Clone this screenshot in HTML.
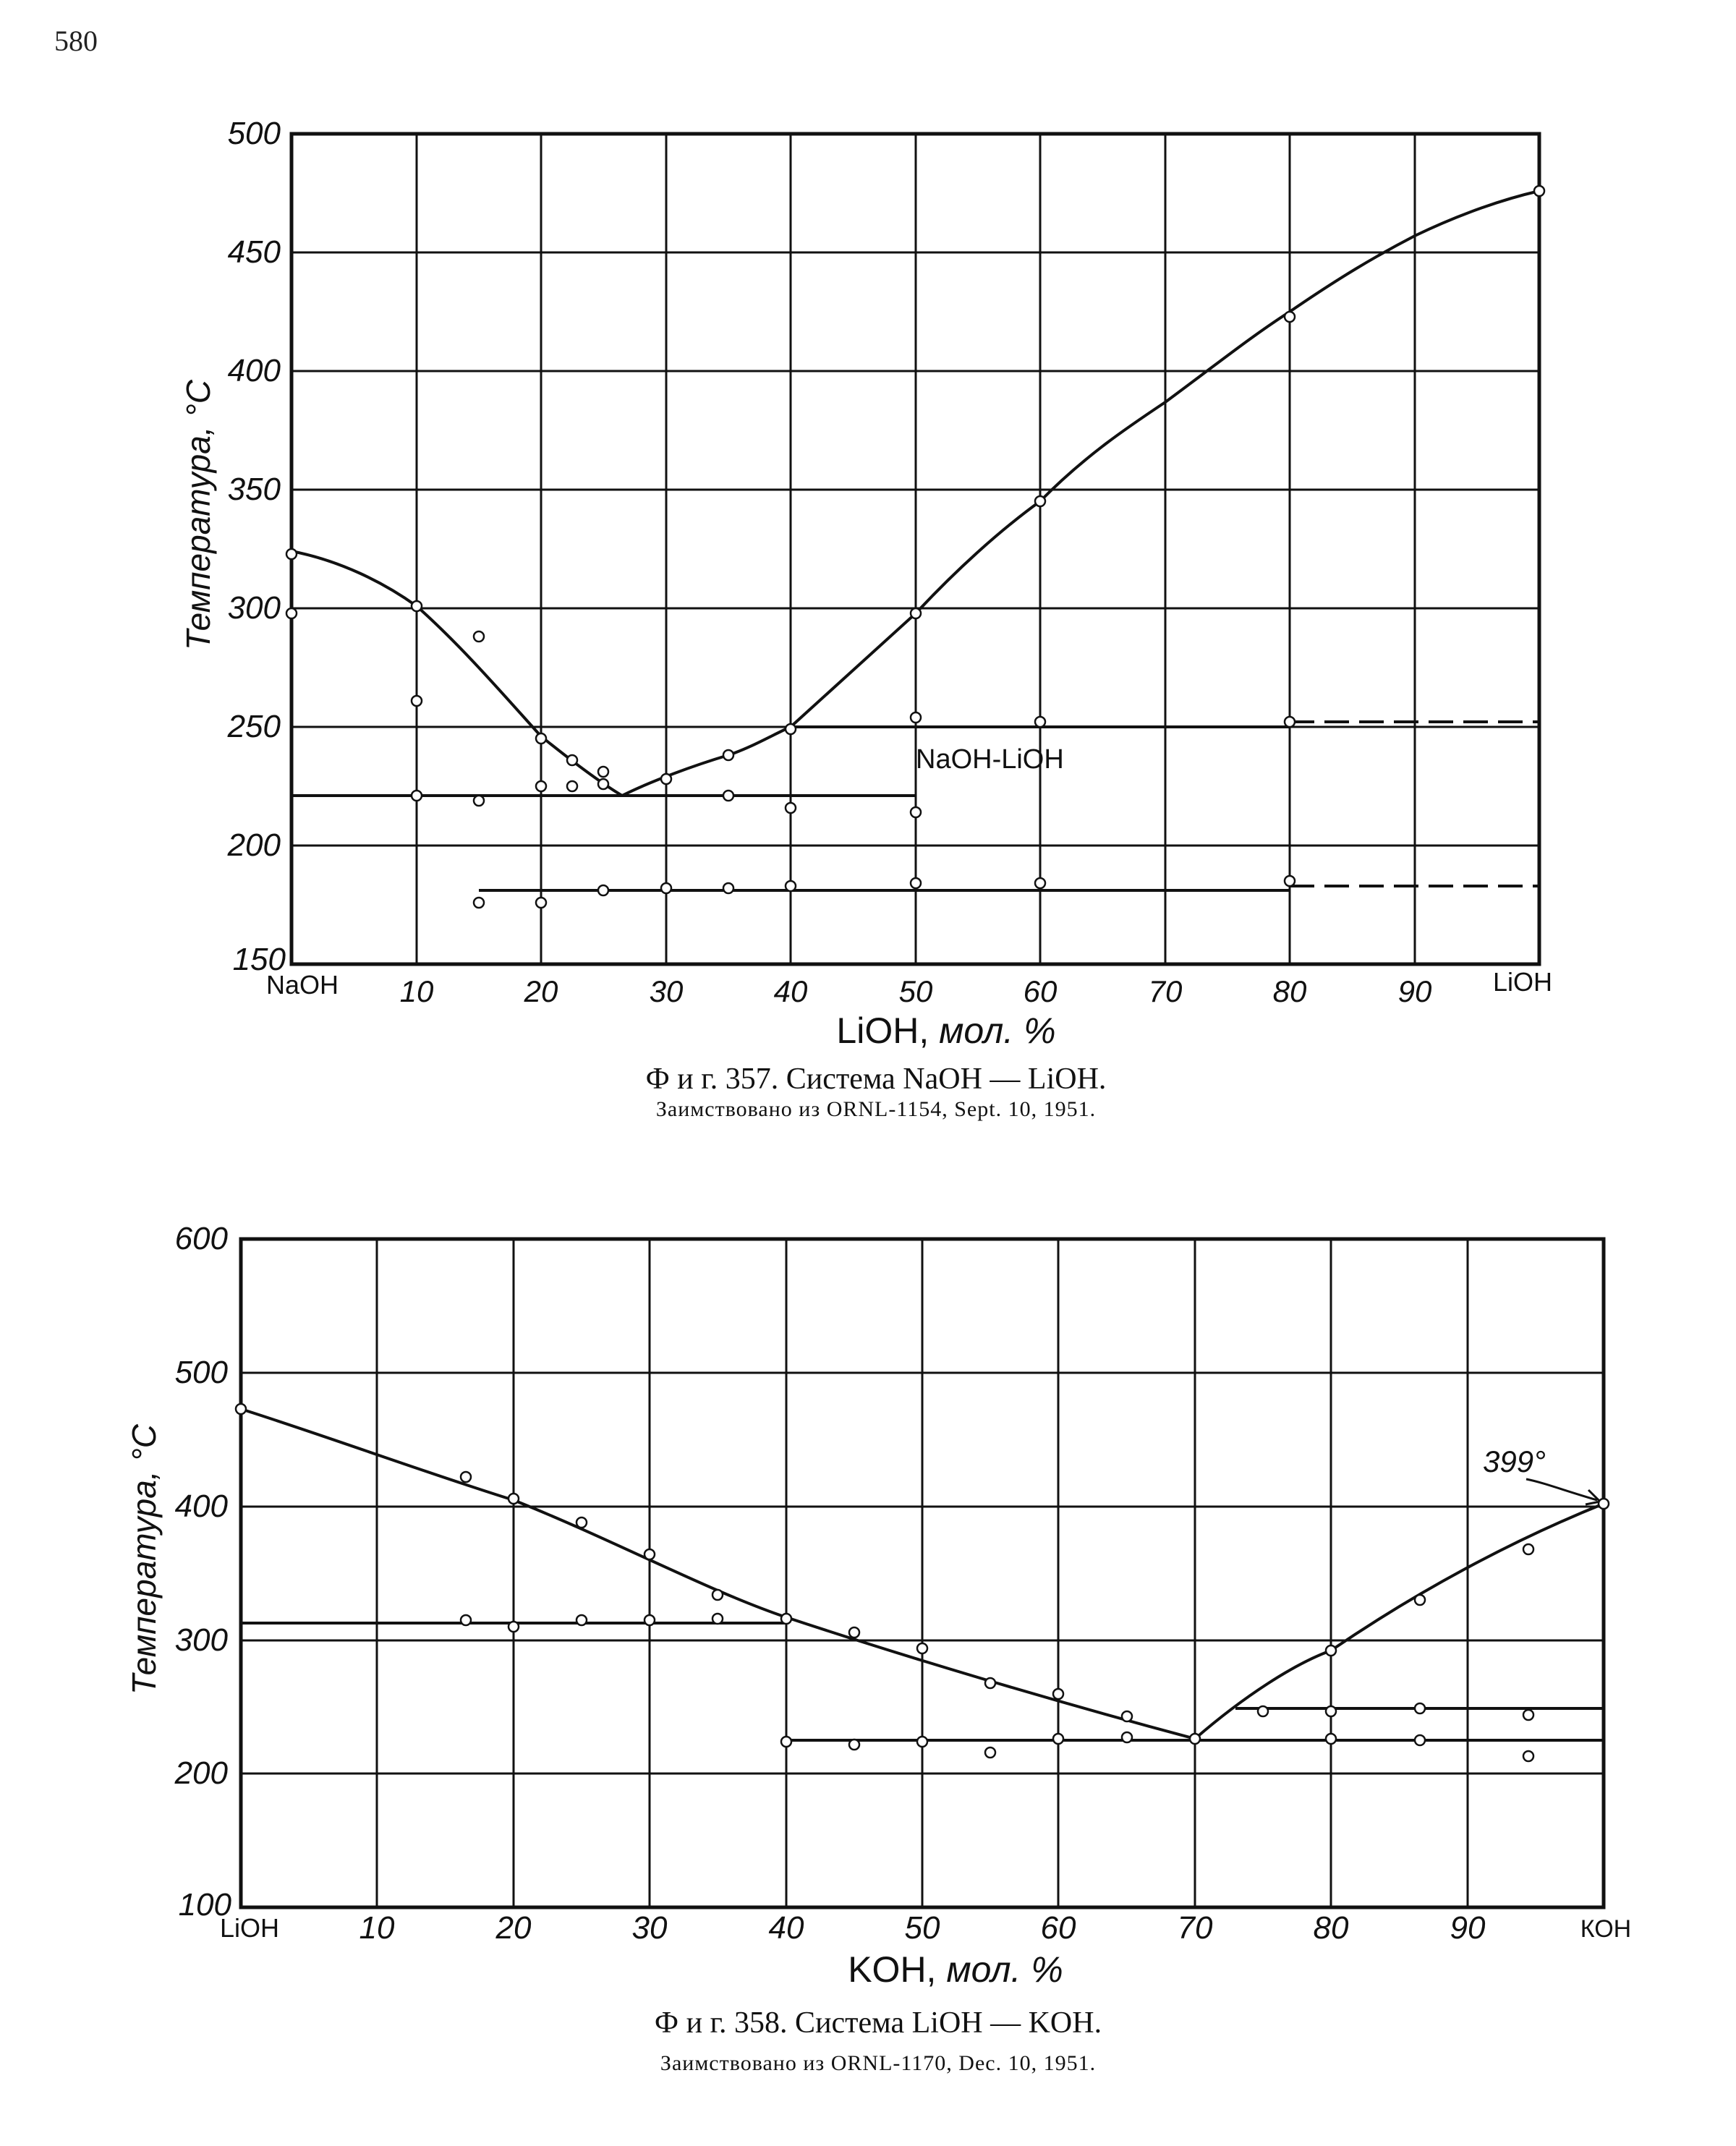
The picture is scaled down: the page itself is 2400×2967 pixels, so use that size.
<!DOCTYPE html>
<html><head><meta charset="utf-8"><style>
html,body{margin:0;padding:0;background:#fff}
svg{display:block}
.t{font-family:"Liberation Sans",sans-serif;font-style:italic}
.s{font-family:"Liberation Serif",serif}
</style></head><body>
<svg width="2400" height="2967" viewBox="0 0 2400 2967" xmlns="http://www.w3.org/2000/svg">
<rect width="2400" height="2967" fill="#fff"/>
<text x="75" y="70" class="s" font-size="40" fill="#222">580</text>

<!-- Chart 1 -->
<g stroke="#111" stroke-width="3" fill="none">
<path d="M576 185V1333M748 185V1333M921 185V1333M1093 185V1333M1266 185V1333M1438 185V1333M1611 185V1333M1783 185V1333M1956 185V1333"/>
<path d="M403 349H2128M403 513H2128M403 677H2128M403 841H2128M403 1005H2128M403 1169H2128"/>
<rect x="403" y="185" width="1725" height="1148" stroke-width="5"/>
</g>
<g stroke="#111" stroke-width="4" fill="none">
<path d="M403 762 C470 775 530 805 576 838 C640 895 700 965 748 1018 C800 1060 835 1085 860 1100"/>
<path d="M860 1100 C900 1080 960 1058 1007 1044 C1040 1033 1070 1015 1093 1005 L1266 848 C1320 790 1380 735 1438 693 C1500 630 1560 590 1611 556 C1680 505 1730 465 1783 431 C1850 385 1900 355 1956 326 C2020 295 2080 275 2128 264"/>
<path d="M403 1100H1266"/>
<path d="M1093 1005H1783"/>
<path d="M662 1231H1783"/>
<path d="M1783 998H2128M1783 1225H2128" stroke-dasharray="34 14"/>
</g>
<g stroke="#111" stroke-width="2.5" fill="#fff">
<circle cx="403" cy="766" r="7"/><circle cx="403" cy="848" r="7"/>
<circle cx="576" cy="838" r="7"/><circle cx="576" cy="969" r="7"/><circle cx="576" cy="1100" r="7"/>
<circle cx="662" cy="880" r="7"/><circle cx="662" cy="1107" r="7"/><circle cx="662" cy="1248" r="7"/>
<circle cx="748" cy="1021" r="7"/><circle cx="748" cy="1087" r="7"/><circle cx="748" cy="1248" r="7"/>
<circle cx="791" cy="1051" r="7"/><circle cx="791" cy="1087" r="7"/>
<circle cx="834" cy="1067" r="7"/><circle cx="834" cy="1084" r="7"/><circle cx="834" cy="1231" r="7"/>
<circle cx="921" cy="1077" r="7"/><circle cx="921" cy="1228" r="7"/>
<circle cx="1007" cy="1044" r="7"/><circle cx="1007" cy="1100" r="7"/><circle cx="1007" cy="1228" r="7"/>
<circle cx="1093" cy="1008" r="7"/><circle cx="1093" cy="1117" r="7"/><circle cx="1093" cy="1225" r="7"/>
<circle cx="1266" cy="848" r="7"/><circle cx="1266" cy="992" r="7"/><circle cx="1266" cy="1123" r="7"/><circle cx="1266" cy="1221" r="7"/>
<circle cx="1438" cy="693" r="7"/><circle cx="1438" cy="998" r="7"/><circle cx="1438" cy="1221" r="7"/>
<circle cx="1783" cy="438" r="7"/><circle cx="1783" cy="998" r="7"/><circle cx="1783" cy="1218" r="7"/>
<circle cx="2128" cy="264" r="7"/>
</g>
<text x="1266" y="1062" font-family="Liberation Sans,sans-serif" font-size="38" fill="#111">NaOH-LiOH</text>
<g class="t" font-size="44" fill="#111" text-anchor="end">
<text x="388" y="199">500</text><text x="388" y="363">450</text><text x="388" y="527">400</text>
<text x="388" y="691">350</text><text x="388" y="855">300</text><text x="388" y="1019">250</text>
<text x="388" y="1183">200</text><text x="395" y="1341">150</text>
</g>
<g class="t" font-size="42" fill="#111" text-anchor="middle">
<text x="576" y="1385">10</text><text x="748" y="1385">20</text><text x="921" y="1385">30</text>
<text x="1093" y="1385">40</text><text x="1266" y="1385">50</text><text x="1438" y="1385">60</text>
<text x="1611" y="1385">70</text><text x="1783" y="1385">80</text><text x="1956" y="1385">90</text>
</g>
<text x="418" y="1374" font-family="Liberation Sans,sans-serif" font-size="36" text-anchor="middle" fill="#111">NaOH</text>
<text x="2105" y="1370" font-family="Liberation Sans,sans-serif" font-size="36" text-anchor="middle" fill="#111">LiOH</text>
<text x="1308" y="1442" text-anchor="middle" fill="#111" font-size="50"><tspan font-family="Liberation Sans,sans-serif">LiOH, </tspan><tspan class="t">мол. %</tspan></text>
<text class="t" font-size="46" fill="#111" text-anchor="middle" transform="translate(290 712) rotate(-90)">Температура, °C</text>
<text x="1211" y="1505" class="s" font-size="42" text-anchor="middle" fill="#111">Ф и г. 357. Система NaOH — LiOH.</text>
<text x="1211" y="1543" class="s" font-size="30" letter-spacing="1" text-anchor="middle" fill="#111">Заимствовано из ORNL-1154, Sept. 10, 1951.</text>

<!-- Chart 2 -->
<g stroke="#111" stroke-width="3" fill="none">
<path d="M521 1713V2637M710 1713V2637M898 1713V2637M1087 1713V2637M1275 1713V2637M1463 1713V2637M1652 1713V2637M1840 1713V2637M2029 1713V2637"/>
<path d="M333 1898H2217M333 2083H2217M333 2268H2217M333 2452H2217"/>
<rect x="333" y="1713" width="1884" height="924" stroke-width="5"/>
</g>
<g stroke="#111" stroke-width="4" fill="none">
<path d="M333 1948 C450 1985 600 2040 710 2074 C850 2130 980 2200 1087 2236 C1250 2290 1450 2350 1652 2404"/>
<path d="M1652 2404 C1720 2345 1790 2300 1840 2282 C1960 2200 2090 2130 2217 2079"/>
<path d="M333 2244H1087"/>
<path d="M1087 2406H2217"/>
<path d="M1708 2362H2217"/>
<path d="M2110 2045 C2135 2050 2160 2060 2208 2074" stroke-width="3"/>
<path d="M2196 2060 L2212 2076 L2192 2080" stroke-width="3"/>
</g>
<g stroke="#111" stroke-width="2.5" fill="#fff">
<circle cx="333" cy="1948" r="7"/>
<circle cx="644" cy="2042" r="7"/><circle cx="644" cy="2240" r="7"/>
<circle cx="710" cy="2072" r="7"/><circle cx="710" cy="2249" r="7"/>
<circle cx="804" cy="2105" r="7"/><circle cx="804" cy="2240" r="7"/>
<circle cx="898" cy="2149" r="7"/><circle cx="898" cy="2240" r="7"/>
<circle cx="992" cy="2205" r="7"/><circle cx="992" cy="2238" r="7"/>
<circle cx="1087" cy="2238" r="7"/><circle cx="1087" cy="2408" r="7"/>
<circle cx="1181" cy="2257" r="7"/><circle cx="1181" cy="2412" r="7"/>
<circle cx="1275" cy="2279" r="7"/><circle cx="1275" cy="2408" r="7"/>
<circle cx="1369" cy="2327" r="7"/><circle cx="1369" cy="2423" r="7"/>
<circle cx="1463" cy="2342" r="7"/><circle cx="1463" cy="2404" r="7"/>
<circle cx="1558" cy="2373" r="7"/><circle cx="1558" cy="2402" r="7"/>
<circle cx="1652" cy="2404" r="7"/>
<circle cx="1746" cy="2366" r="7"/>
<circle cx="1840" cy="2282" r="7"/><circle cx="1840" cy="2366" r="7"/><circle cx="1840" cy="2404" r="7"/>
<circle cx="1963" cy="2212" r="7"/><circle cx="1963" cy="2362" r="7"/><circle cx="1963" cy="2406" r="7"/>
<circle cx="2113" cy="2142" r="7"/><circle cx="2113" cy="2371" r="7"/><circle cx="2113" cy="2428" r="7"/>
<circle cx="2217" cy="2079" r="7"/>
</g>
<text x="2050" y="2035" class="t" font-size="42" fill="#111">399°</text>
<g class="t" font-size="44" fill="#111" text-anchor="end">
<text x="315" y="1727">600</text><text x="315" y="1912">500</text><text x="315" y="2097">400</text>
<text x="315" y="2282">300</text><text x="315" y="2466">200</text><text x="320" y="2648">100</text>
</g>
<g class="t" font-size="44" fill="#111" text-anchor="middle">
<text x="521" y="2680">10</text><text x="710" y="2680">20</text><text x="898" y="2680">30</text>
<text x="1087" y="2680">40</text><text x="1275" y="2680">50</text><text x="1463" y="2680">60</text>
<text x="1652" y="2680">70</text><text x="1840" y="2680">80</text><text x="2029" y="2680">90</text>
</g>
<text x="345" y="2678" font-family="Liberation Sans,sans-serif" font-size="36" text-anchor="middle" fill="#111">LiOH</text>
<text x="2220" y="2678" font-family="Liberation Sans,sans-serif" font-size="34" text-anchor="middle" fill="#111">КОН</text>
<text x="1321" y="2740" text-anchor="middle" fill="#111" font-size="50"><tspan font-family="Liberation Sans,sans-serif">KOH, </tspan><tspan class="t">мол. %</tspan></text>
<text class="t" font-size="46" fill="#111" text-anchor="middle" transform="translate(215 2156) rotate(-90)">Температура, °C</text>
<text x="1214" y="2810" class="s" font-size="42" text-anchor="middle" fill="#111">Ф и г. 358. Система LiOH — KOH.</text>
<text x="1214" y="2862" class="s" font-size="30" letter-spacing="1" text-anchor="middle" fill="#111">Заимствовано из ORNL-1170, Dec. 10, 1951.</text>
</svg>
</body></html>
